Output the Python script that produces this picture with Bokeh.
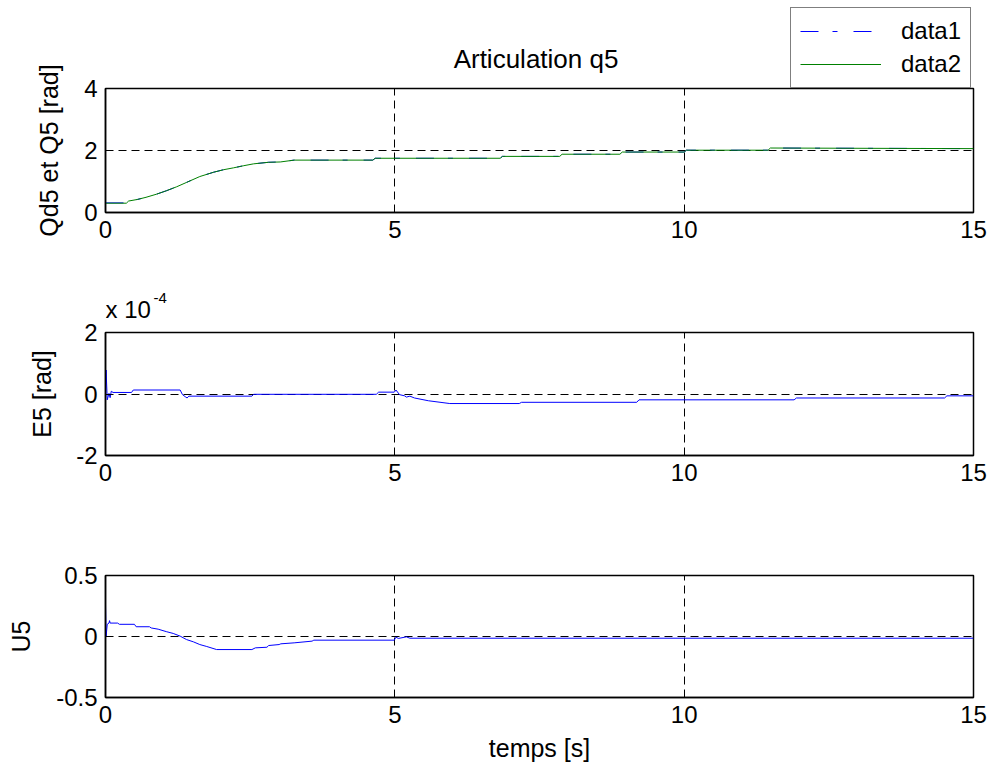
from bokeh.plotting import figure
from bokeh.layouts import column
from bokeh.models import (FixedTicker, Legend, LegendItem, Label, Range1d,
                          CustomJSTickFormatter)
from bokeh.embed import file_html
from bokeh.resources import INLINE

FONT = "Liberation Sans"

# ---------------- data ----------------
x_ticks = [0, 5, 10, 15]

# Articulation q5 : desired (data1) and measured (data2) position [rad]
q5_t = [0, 0.36, 0.40, 0.55, 0.70, 0.88, 1.05, 1.23, 1.40, 1.63, 1.87, 2.04,
        2.21, 2.39, 2.56, 2.82, 3.02, 3.26, 4.62, 4.66, 6.82, 6.86, 7.85, 7.89,
        8.89, 8.93, 10.0, 10.04, 11.45, 11.49, 15.0]
q5_data1 = [0.31, 0.31, 0.38, 0.42, 0.49, 0.59, 0.70, 0.83, 0.97, 1.16, 1.30, 1.38,
            1.44, 1.51, 1.57, 1.62, 1.63, 1.69, 1.69, 1.75, 1.75, 1.81, 1.81, 1.88,
            1.88, 1.95, 1.95, 2.01, 2.01, 2.08, 2.06]
q5_data2 = [0.30, 0.30, 0.37, 0.42, 0.49, 0.59, 0.70, 0.83, 0.97, 1.16, 1.30, 1.38,
            1.44, 1.51, 1.57, 1.62, 1.63, 1.69, 1.69, 1.75, 1.75, 1.81, 1.81, 1.88,
            1.88, 1.95, 1.95, 2.01, 2.01, 2.08, 2.06]
q5_yticks = [0, 2, 4]

# Error E5 (in units of 1e-4 rad)
e5_t = [0, 0.01, 0.03, 0.06, 0.08, 0.10, 0.13, 0.45, 0.48, 1.29, 1.33, 1.38,
        1.41, 1.44, 2.53, 2.56, 4.68, 4.72, 4.99, 5.02, 5.08, 5.17, 5.20, 5.26,
        5.34, 5.58, 5.95, 7.15, 7.19, 9.18, 9.22, 11.90, 11.94, 14.50, 14.54, 15.0]
e5_x1e4 = [0.0, 0.78, -0.19, 0.02, -0.12, 0.09, 0.05, 0.05, 0.13, 0.13, -0.02, -0.09,
           -0.13, -0.07, -0.07, -0.01, -0.01, 0.06, 0.06, 0.13, -0.02, -0.06, -0.10, -0.07,
           -0.13, -0.22, -0.31, -0.31, -0.27, -0.27, -0.19, -0.19, -0.13, -0.13, -0.06, -0.06]
e5_yticks = [-2, 0, 2]

# Command U5
u5_t = [0, 0.01, 0.03, 0.06, 0.07, 0.08, 0.21, 0.24, 0.50, 0.53, 0.76, 0.79,
        0.91, 1.05, 1.17, 1.29, 1.40, 1.52, 1.63, 1.75, 1.92, 2.53, 2.59, 2.79,
        2.82, 3.00, 3.03, 3.26, 3.57, 3.60, 4.99, 5.02, 5.06, 5.20, 5.26, 15.0]
u5_vals = [0.26, 0.0, 0.10, 0.11, 0.13, 0.11, 0.11, 0.10, 0.10, 0.08, 0.08, 0.07,
           0.06, 0.04, 0.025, 0.003, -0.025, -0.044, -0.066, -0.082, -0.107, -0.107, -0.093, -0.088,
           -0.074, -0.066, -0.060, -0.052, -0.038, -0.030, -0.030, -0.005, -0.016, -0.003, -0.014, -0.014]
u5_yticks = [-0.5, 0, 0.5]

W, H = 993, 769
LEFT, RIGHT = 105, 20
BLUE, GREEN = "#0000ff", "#008000"
DASHDOT = "18 14 5 16"
LW = 1.0


def make_fig(height, top, bottom, y_rng, yticks, ylabel, ylab_standoff):
    p = figure(width=W, height=height, output_backend="svg", toolbar_location=None,
               x_range=Range1d(0, 15), y_range=Range1d(*y_rng),
               min_border_left=LEFT, min_border_right=RIGHT,
               min_border_top=top, min_border_bottom=bottom)
    p.title_location = None
    p.background_fill_color = "white"
    p.border_fill_color = "white"
    p.outline_line_color = "black"
    p.outline_line_width = 1.5
    p.outline_line_alpha = 1.0
    p.xaxis.ticker = FixedTicker(ticks=x_ticks)
    p.yaxis.ticker = FixedTicker(ticks=yticks)
    p.yaxis.formatter = CustomJSTickFormatter(code="return tick.toString();")
    for ax in (p.xaxis[0], p.yaxis[0]):
        ax.major_tick_in = 6
        ax.major_tick_out = 0
        ax.minor_tick_line_color = None
        ax.axis_line_color = "black"
        ax.axis_line_width = 1.5
        ax.major_tick_line_color = "black"
        ax.major_label_text_font = FONT
        ax.major_label_text_font_size = "24px"
        ax.major_label_text_color = "black"
        ax.axis_label_text_font = FONT
        ax.axis_label_text_font_size = "25px"
        ax.axis_label_text_font_style = "normal"
        ax.axis_label_text_color = "black"
    p.xaxis.major_label_standoff = 8
    p.yaxis.major_label_standoff = 8
    p.yaxis.axis_label = ylabel
    p.yaxis.axis_label_standoff = ylab_standoff
    p.grid.grid_line_color = "black"
    p.grid.grid_line_dash = "8 5"
    p.grid.grid_line_width = 1
    return p


# ---------- subplot 1 ----------
p1 = make_fig(270, 88, 58, (0, 4), q5_yticks, "Qd5 et Q5 [rad]", 18)
p1.line(q5_t, q5_data1, line_color=BLUE, line_width=LW, line_dash=DASHDOT)
p1.line(q5_t, q5_data2, line_color=GREEN, line_width=LW)

# ---------- subplot 2 ----------
p2 = make_fig(240, 62, 55, (-2, 2), e5_yticks, "E5 [rad]", 17)
p2.line(e5_t, e5_x1e4, line_color=BLUE, line_width=LW)

# ---------- subplot 3 ----------
p3 = make_fig(259, 65, 72, (-0.5, 0.5), u5_yticks, "U5", 18)
p3.line(u5_t, u5_vals, line_color=BLUE, line_width=LW)
p3.xaxis.axis_label = "temps [s]"
p3.xaxis.axis_label_standoff = 8

# ---------- transparent overlay: title, legend, exponent (page pixel rows) ----------
ov = figure(width=W, height=H, output_backend="svg", toolbar_location=None,
            x_range=Range1d(0, 15), y_range=Range1d(H, 0),
            x_axis_type=None, y_axis_type=None,
            min_border_left=LEFT, min_border_right=RIGHT, min_border_top=0, min_border_bottom=0)
ov.title_location = None
ov.background_fill_alpha = 0
ov.border_fill_alpha = 0
ov.outline_line_color = None
ov.margin = (-H, 0, 0, 0)
# legend glyph sources (same series as subplot 1, kept off-canvas on a hidden range)
ov.extra_y_ranges = {"hidden": Range1d(-1000, -999)}
l1 = ov.line(q5_t, q5_data1, line_color=BLUE, line_width=LW, line_dash=DASHDOT,
             y_range_name="hidden")
l2 = ov.line(q5_t, q5_data2, line_color=GREEN, line_width=LW, y_range_name="hidden")
legend = Legend(items=[LegendItem(label="data1", renderers=[l1]),
                       LegendItem(label="data2", renderers=[l2])],
                location=(685, 681), orientation="vertical",
                border_line_color="black", border_line_width=1.5,
                background_fill_color="white", background_fill_alpha=1.0,
                label_text_font=FONT, label_text_font_size="24px",
                label_text_color="black",
                padding=9, spacing=5, margin=0,
                glyph_width=81, glyph_height=28, label_height=28,
                label_standoff=20)
ov.add_layout(legend, "center")
ov.add_layout(Label(x=7.44, y=58, text="Articulation q5", text_font=FONT,
                    text_font_size="26px", text_color="black",
                    text_align="center", text_baseline="middle"))
ov.add_layout(Label(x=0.0, y=309, text="x 10", text_font=FONT,
                    text_font_size="24px", text_color="black",
                    text_align="left", text_baseline="middle"))
ov.add_layout(Label(x=0.83, y=297, text="-4", text_font=FONT,
                    text_font_size="15px", text_color="black",
                    text_align="left", text_baseline="middle"))

layout = column(p1, p2, p3, ov, spacing=0)
open("out.html", "w").write(file_html(layout, INLINE))
